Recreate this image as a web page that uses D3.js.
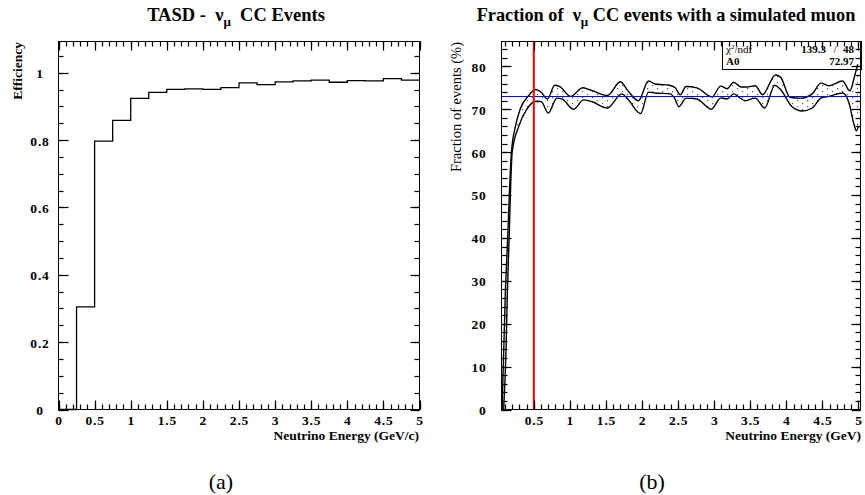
<!DOCTYPE html>
<html>
<head>
<meta charset="utf-8">
<script src="https://cdn.jsdelivr.net/npm/d3@7"></script>
<style>
    body { margin: 0; background: #fff; color: #000; }
    svg { display: block; }
    svg text { font-family: "Liberation Serif", "Times New Roman", serif; fill: #000; }
</style>
</head>
<body>
<div id="chart"></div>
<script>

// (a) TASD efficiency, bins of 0.25 GeV
const binEdges = [0, 0.25, 0.5, 0.75, 1, 1.25, 1.5, 1.75, 2, 2.25, 2.5, 2.75, 3, 3.25, 3.5, 3.75, 4, 4.25, 4.5, 4.75, 5];
const efficiency = [0, 0.305, 0.797, 0.859, 0.924, 0.942, 0.951, 0.952, 0.951, 0.956,
                    0.970, 0.965, 0.973, 0.976, 0.978, 0.972, 0.977, 0.976, 0.983, 0.978];
const effTicks = [0, 0.2, 0.4, 0.6, 0.8, 1];
const energyTicksA = [0, 0.5, 1, 1.5, 2, 2.5, 3, 3.5, 4, 4.5, 5];

// (b) fraction of events with a simulated muon: upper / lower edge of the band
const upperE = [0.06, 0.08, 0.105, 0.14, 0.16, 0.19, 0.245, 0.31, 0.43, 0.52, 0.60, 0.69, 0.79, 0.86, 1.01, 1.18,
                1.30, 1.52, 1.70, 1.80, 1.95, 2.09, 2.18, 2.38, 2.46, 2.53, 2.61, 2.76, 2.97, 3.09, 3.18, 3.27,
                3.37, 3.45, 3.57, 3.67, 3.85, 3.92, 4.05, 4.20, 4.36, 4.48, 4.59, 4.78, 4.88, 4.95, 4.99];
const upperFrac = [0, 12, 27, 41, 50, 60, 66, 70, 73.2, 74.6, 74.0, 72.4, 75.6, 75.3, 73.0, 75.0,
                   74.4, 73.2, 76.4, 74.4, 72.0, 76.6, 75.9, 75.6, 75.0, 73.4, 75.3, 75.0, 72.9, 75.4, 74.8, 76.3,
                   75.2, 75.2, 75.5, 73.4, 78.0, 77.5, 72.8, 72.6, 73.6, 76.1, 75.5, 76.6, 74.3, 78.0, 80.5];
const lowerE = [0.082, 0.115, 0.133, 0.16, 0.175, 0.20, 0.29, 0.40, 0.52, 0.60, 0.70, 0.82, 0.90, 1.05, 1.19, 1.30,
                1.52, 1.72, 1.81, 1.98, 2.09, 2.18, 2.39, 2.45, 2.51, 2.61, 2.76, 2.96, 3.09, 3.18, 3.27, 3.36,
                3.43, 3.57, 3.70, 3.84, 3.91, 4.08, 4.22, 4.36, 4.48, 4.59, 4.78, 4.87, 4.93, 4.97, 5.0];
const lowerFrac = [0, 14, 27, 41, 50, 60, 66, 69.9, 71.8, 71.8, 69.1, 72.6, 72.3, 70.0, 72.2, 71.8,
                   70.3, 73.6, 72.2, 69.0, 74.0, 73.8, 73.6, 72.6, 70.6, 72.6, 72.4, 70.0, 72.6, 72.4, 73.6, 72.6,
                   72.0, 72.6, 70.3, 75.6, 74.8, 70.6, 69.6, 70.3, 72.6, 73.0, 73.8, 71.4, 67.0, 65.0, 66.0];
const fracTicks = [0, 10, 20, 30, 40, 50, 60, 70, 80];
const energyTicksB = [0.5, 1, 1.5, 2, 2.5, 3, 3.5, 4, 4.5, 5];
const fitA0 = 72.97;
const chi2 = 139.3, ndf = 48;
const energyCut = 0.5;

const svg = d3.select("#chart").append("svg")
    .attr("width", 865)
    .attr("height", 495);

const defs = svg.append("defs");

// sparse dotted fill, like ROOT fill style 3001
let pat = defs.append("pattern")
    .attr("id", "dots")
    .attr("patternUnits", "userSpaceOnUse")
    .attr("width", 10)
    .attr("height", 6);
pat.append("rect").attr("x", 2).attr("y", 1).attr("width", 1.2).attr("height", 1.2).attr("fill", "#555");
pat.append("rect").attr("x", 7).attr("y", 4).attr("width", 1.2).attr("height", 1.2).attr("fill", "#555");

// inward tick marks along one side of the frame, as thin filled rects
function tickMarks(g, scale, values, side, pos, len) {
    let vertical = side === "left" || side === "right";
    g.append("g").selectAll("rect")
        .data(values)
        .join("rect")
        .attr("x", d => vertical ? (side === "left" ? pos : pos - len) : Math.round(scale(d)) - 0.1)
        .attr("y", d => vertical ? Math.round(scale(d)) - 0.1 : (side === "top" ? pos : pos - len))
        .attr("width", vertical ? len : 1.2)
        .attr("height", vertical ? 1.2 : len)
        .attr("fill", "#000");
}

// frame with inward ticks on all four sides, labels from d3 axes
function drawFrame(g, x, y, o) {
    let xl = x.range()[0], xr = x.range()[1];
    let yb = y.range()[0], yt = y.range()[1];

    tickMarks(g, x, o.xMinor, "bottom", yb, 5);
    tickMarks(g, x, o.xMajor, "bottom", yb, 9);
    tickMarks(g, x, o.xMinor, "top", yt, 5);
    tickMarks(g, x, o.xMajor, "top", yt, 9);
    tickMarks(g, y, o.yMinor, "left", xl, o.yMinorLen);
    tickMarks(g, y, o.yMajor, "left", xl, 10);
    tickMarks(g, y, o.yMinor, "right", xr, 5);
    tickMarks(g, y, o.yMajor, "right", xr, 9);

    let bottom = g.append("g").attr("transform", `translate(0,${yb})`)
        .call(d3.axisBottom(x).tickValues(o.xMajor).tickSize(0).tickPadding(5.5).tickFormat(d => String(d)));
    let left = g.append("g").attr("transform", `translate(${xl},0)`)
        .call(d3.axisLeft(y).tickValues(o.yMajor).tickSize(0).tickPadding(o.yPad).tickFormat(d => String(d)));
    bottom.select(".domain").remove();
    left.select(".domain").remove();

    [bottom, left].forEach(a => a.selectAll("text")
        .attr("font-family", null)
        .style("font-size", "13.5px")
        .style("font-weight", "bold")
        .style("letter-spacing", "0.8px"));
    left.selectAll("text").attr("text-anchor", o.yAnchor).attr("dy", "0.36em");

    g.append("rect")
        .attr("x", xl)
        .attr("y", yt)
        .attr("width", xr - xl)
        .attr("height", yb - yt)
        .attr("fill", "none")
        .attr("stroke", "#000");
}

/* ---------- (a) ---------- */
let gA = svg.append("g");
let xA = d3.scaleLinear().domain([0, 5]).range([58.5, 419.5]);
let yA = d3.scaleLinear().domain([0, 1.093]).range([409.5, 41.5]);

let histPts = efficiency.map((v, i) => [binEdges[i], v]);
histPts.push([binEdges[binEdges.length - 1], efficiency[efficiency.length - 1]]);

gA.append("path")
    .attr("d", d3.line().x(d => xA(d[0])).y(d => yA(d[1])).curve(d3.curveStepAfter)(histPts))
    .attr("fill", "none")
    .attr("stroke", "#000")
    .attr("stroke-width", 1.3);

let titleA = gA.append("text")
    .attr("x", 236).attr("y", 21)
    .attr("text-anchor", "middle")
    .style("font-size", "18.5px").style("font-weight", "bold").style("white-space", "pre");
titleA.append("tspan").text("TASD -  \u03bd");
titleA.append("tspan").attr("dy", 5).style("font-size", "13px").text("\u03bc");
titleA.append("tspan").attr("dy", -5).text("  CC Events");

gA.append("text")
    .attr("transform", "translate(22,42) rotate(-90)")
    .attr("text-anchor", "end")
    .style("font-size", "13.5px").style("font-weight", "bold")
    .text("Efficiency");

gA.append("text")
    .attr("x", 419).attr("y", 440)
    .attr("text-anchor", "end")
    .style("font-size", "13.5px").style("font-weight", "bold")
    .text("Neutrino Energy (GeV/c)");

gA.append("text")
    .attr("x", 221).attr("y", 489)
    .attr("text-anchor", "middle")
    .style("font-size", "22px")
    .text("(a)");

/* ---------- (b) ---------- */
let gB = svg.append("g");
let xB = d3.scaleLinear().domain([0.052, 5.028]).range([501.5, 860.5]);
let yB = d3.scaleLinear().domain([0, 85.8]).range([409.5, 41.5]);

defs.append("clipPath").attr("id", "clipB")
    .append("rect").attr("x", 501.5).attr("y", 41.5).attr("width", 359).attr("height", 368);

// stats box
gB.append("rect")
    .attr("x", 722.5).attr("y", 41.5)
    .attr("width", 139).attr("height", 28)
    .attr("fill", "#fff").attr("stroke", "#000");

let chiText = gB.append("text").attr("x", 726).attr("y", 53).style("font-size", "11px");
chiText.append("tspan").text("\u03c7");
chiText.append("tspan").attr("dy", -4).style("font-size", "7px").text("2");
chiText.append("tspan").attr("dy", 4).text("/ndf");
gB.append("text").attr("x", 826).attr("y", 53).attr("text-anchor", "end")
    .style("font-size", "11px").style("font-weight", "bold").text(chi2.toFixed(1));
gB.append("text").attr("x", 835).attr("y", 53).attr("text-anchor", "middle")
    .style("font-size", "11px").text("/");
gB.append("text").attr("x", 854).attr("y", 53).attr("text-anchor", "end")
    .style("font-size", "11px").style("font-weight", "bold").text(ndf);
gB.append("text").attr("x", 726).attr("y", 65)
    .style("font-size", "11px").style("font-weight", "bold").text("A0");
gB.append("text").attr("x", 854).attr("y", 65).attr("text-anchor", "end")
    .style("font-size", "11px").style("font-weight", "bold").text(fitA0.toFixed(2));

let plotB = gB.append("g").attr("clip-path", "url(#clipB)");

let lineB = d3.line().x(d => xB(d[0])).y(d => yB(d[1])).curve(d3.curveMonotoneX);
let upPts = upperE.map((e, i) => [e, upperFrac[i]]);
let loPts = lowerE.map((e, i) => [e, lowerFrac[i]]);

plotB.append("path")
    .attr("d", lineB(upPts) + "L" + lineB(loPts.slice().reverse()).slice(1) + "Z")
    .attr("fill", "url(#dots)")
    .attr("stroke", "none");

[upPts, loPts].forEach(pts => {
    plotB.append("path")
        .attr("d", lineB(pts))
        .attr("fill", "none")
        .attr("stroke", "#000")
        .attr("stroke-width", 1.4);
});

// constant fit
plotB.append("line")
    .attr("x1", xB.range()[0]).attr("x2", xB.range()[1])
    .attr("y1", yB(fitA0)).attr("y2", yB(fitA0))
    .attr("stroke", "#0000ff").attr("stroke-width", 1.1);

// energy cut
plotB.append("line")
    .attr("x1", xB(energyCut)).attr("x2", xB(energyCut))
    .attr("y1", yB.range()[0]).attr("y2", yB.range()[1])
    .attr("stroke", "#ff0000").attr("stroke-width", 2);

let titleB = gB.append("text")
    .attr("x", 666).attr("y", 21)
    .attr("text-anchor", "middle")
    .style("font-size", "18.3px").style("font-weight", "bold").style("white-space", "pre");
titleB.append("tspan").text("Fraction of  \u03bd");
titleB.append("tspan").attr("dy", 5).style("font-size", "13px").text("\u03bc");
titleB.append("tspan").attr("dy", -5).text(" CC events with a simulated muon");

gB.append("text")
    .attr("transform", "translate(461,42) rotate(-90)")
    .attr("text-anchor", "end")
    .style("font-size", "14.5px")
    .text("Fraction of events (%)");

gB.append("text")
    .attr("x", 861).attr("y", 440)
    .attr("text-anchor", "end")
    .style("font-size", "13.5px").style("font-weight", "bold")
    .text("Neutrino Energy (GeV)");

gB.append("text")
    .attr("x", 652).attr("y", 489)
    .attr("text-anchor", "middle")
    .style("font-size", "22px")
    .text("(b)");

// frames and ticks last, on top of everything
drawFrame(svg.append("g"), xA, yA, {
    xMajor: energyTicksA,
    xMinor: d3.range(0, 5.001, 0.1),
    yMajor: effTicks,
    yMinor: d3.range(0, 1.06, 0.05),
    yMinorLen: 5,
    yPad: 18.5,
    yAnchor: "middle"
});

drawFrame(svg.append("g"), xB, yB, {
    xMajor: energyTicksB,
    xMinor: d3.range(0.1, 5.001, 0.1),
    yMajor: fracTicks,
    yMinor: d3.range(0, 85, 2),
    yMinorLen: 6,
    yPad: 15,
    yAnchor: "end"
});

</script>
</body>
</html>
